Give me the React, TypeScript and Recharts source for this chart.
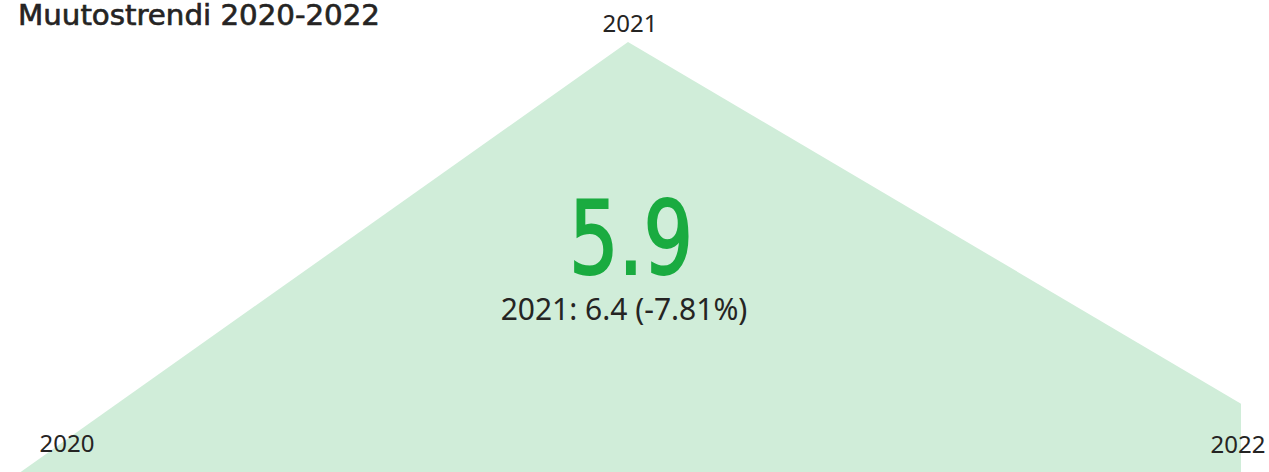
import React from "react";
import { AreaChart, Area, XAxis, YAxis, LabelList } from "recharts";

const years = ["2020", "2021", "2022"];
const values = [5.8, 6.4, 5.9];
const title = "Muutostrendi 2020-2022";

const data = years.map((year, i) => ({ year, value: values[i] }));

const prev = values[values.length - 2];
const curr = values[values.length - 1];
const change = ((curr - prev) / prev) * 100;
const subText = `${years[years.length - 2]}: ${prev.toFixed(1)} (${change.toFixed(2)}%)`;

const labelFont = "'Noto Sans', 'Open Sans', sans-serif";
const dinFont = "'DejaVu Sans Condensed', 'DejaVu Sans', sans-serif";

const YearLabel = (props: any) => {
  const { x, y, index, value } = props;
  // peak gets its label above, the ends sit near the bottom edge
  let tx = x;
  let ty = y;
  if (index === 0) {
    tx = x + 52;
    ty = y - 24;
  } else if (index === years.length - 1) {
    tx = x - 3;
    ty = y + 49;
  } else {
    tx = x + 2;
    ty = y - 10;
  }
  return (
    <text
      x={tx}
      y={ty}
      textAnchor="middle"
      fill="#252423"
      fontSize={24}
      fontFamily={labelFont}
    >
      {value}
    </text>
  );
};

export default function App() {
  return (
    <div
      style={{
        position: "fixed",
        top: 0,
        left: 0,
        width: 1269,
        height: 472,
        overflow: "hidden",
        background: "#fff",
      }}
    >
      <AreaChart
        width={1269}
        height={480}
        data={data}
        margin={{ top: 42, right: 28, left: 15, bottom: 4 }}
      >
        <XAxis dataKey="year" hide padding={{ left: 0, right: 0 }} />
        <YAxis hide domain={[5.8, 6.4]} allowDataOverflow />
        <Area
          type="linear"
          dataKey="value"
          stroke="none"
          fill="#d0edd9"
          fillOpacity={1}
          baseValue="dataMin"
          isAnimationActive={false}
        >
          <LabelList dataKey="year" content={YearLabel} />
        </Area>
      </AreaChart>
      <svg
        width={1269}
        height={472}
        style={{ position: "absolute", top: 0, left: 0, pointerEvents: "none" }}
      >
        <text
          x={18}
          y={25}
          fontSize={29}
          fontFamily={dinFont}
          fill="#252423"
          stroke="#252423"
          strokeWidth={0.6}
          textLength={362}
          lengthAdjust="spacingAndGlyphs"
        >
          {title}
        </text>
        <text
          x={569}
          y={274}
          fontSize={102}
          fontFamily={dinFont}
          fill="#1aab40"
          stroke="#1aab40"
          strokeWidth={2}
          textLength={124}
          lengthAdjust="spacingAndGlyphs"
        >
          {curr.toFixed(1)}
        </text>
        <text
          x={624}
          y={320}
          textAnchor="middle"
          fontSize={30}
          fontFamily={labelFont}
          fill="#252423"
        >
          {subText}
        </text>
      </svg>
    </div>
  );
}
